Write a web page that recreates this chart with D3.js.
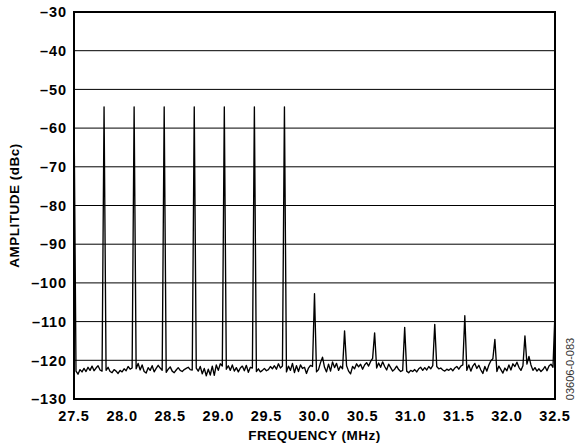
<!DOCTYPE html>
<html>
<head>
<meta charset="utf-8">
<script src="https://cdn.jsdelivr.net/npm/d3@7"></script>
<style>
  html, body { margin: 0; padding: 0; background: #fff; }
  svg { display: block; }
  text { font-family: "Liberation Sans", Arial, Helvetica, sans-serif; }
</style>
</head>
<body>
<svg id="chart" width="587" height="447"></svg>
<script>
// ---- data ----
const xTicks = [27.5, 28.0, 28.5, 29.0, 29.5, 30.0, 30.5, 31.0, 31.5, 32.0, 32.5];
const yTicks = [-30, -40, -50, -60, -70, -80, -90, -100, -110, -120, -130];
const freqStart = 27.5;
const freqStep = 5 / 240;

// noise floor, one value per freqStep (241 values)
const noiseFloor = [
  -123.5,-122.8,-123.6,-122.4,-123.0,-122.1,-122.9,-121.8,-122.6,-121.5,-122.7,-122.0,-121.4,-122.5,-122.8,
  -122.0,-122.6,-121.8,-122.9,-123.2,-122.4,-122.8,-123.4,-122.6,-123.0,-122.2,-122.7,-121.6,-122.3,-122.0,
  -121.5,-122.2,-120.8,-122.5,-121.2,-122.9,-123.3,-121.9,-122.6,-121.4,-123.0,-122.1,-121.3,-122.0,-122.6,
  -122.2,-123.1,-122.3,-121.7,-122.8,-123.2,-122.5,-121.9,-122.6,-122.9,-122.4,-122.1,-121.8,-122.4,-122.5,
  -122.6,-122.0,-122.8,-121.6,-123.5,-122.1,-124.0,-122.3,-123.8,-121.5,-123.9,-121.2,-122.6,-120.9,-121.5,
  -121.0,-122.3,-121.4,-122.6,-121.2,-122.8,-121.9,-123.0,-122.0,-121.5,-122.7,-121.3,-123.1,-121.8,-122.0,
  -122.4,-122.9,-122.2,-123.0,-122.6,-122.1,-122.7,-122.4,-121.6,-122.2,-121.4,-122.3,-120.9,-122.0,-121.5,
  -121.2,-123.0,-121.5,-122.6,-120.8,-123.2,-121.4,-122.9,-121.2,-122.1,-121.8,-123.4,-122.0,-121.3,-121.6,
  -121.5,-123.0,-122.4,-120.6,-119.2,-121.8,-123.0,-121.0,-122.8,-120.4,-121.9,-120.8,-122.6,-121.5,-122.2,
  -121.8,-121.4,-122.8,-123.5,-121.6,-122.2,-120.9,-121.7,-121.0,-122.3,-121.2,-120.6,-121.5,-120.3,-119.5,
  -121.4,-122.0,-120.7,-121.8,-120.4,-121.6,-122.5,-121.0,-121.9,-122.8,-122.3,-121.5,-122.4,-122.9,-122.6,
  -122.1,-122.8,-123.2,-122.6,-122.9,-122.4,-123.0,-122.2,-121.8,-122.6,-121.9,-122.5,-121.6,-122.2,-121.4,
  -121.0,-121.6,-122.2,-122.0,-122.5,-122.8,-122.3,-122.6,-122.1,-122.7,-122.0,-121.6,-122.3,-121.5,-121.2,
  -121.8,-122.6,-121.2,-122.8,-121.5,-120.8,-122.1,-121.3,-122.5,-123.4,-121.6,-122.8,-121.2,-120.1,-119.6,
  -121.8,-122.9,-121.5,-122.4,-123.3,-122.0,-122.7,-121.2,-122.5,-120.9,-121.6,-120.5,-121.8,-122.6,-121.4,
  -121.5,-121.0,-119.0,-121.2,-122.6,-121.9,-122.8,-122.2,-122.9,-122.4,-121.6,-122.7,-121.5,-121.0,-121.8,
  -121.5
];

// tones and spurs (MHz, dBc)
const spikeFreqs = [27.5, 27.8125, 28.125, 28.4375, 28.75, 29.0625, 29.375, 29.6875,
                    30.0, 30.3125, 30.625, 30.9375, 31.25, 31.5625, 31.875, 32.1875, 32.5];
const spikeAmps  = [-54.5, -54.5, -54.5, -54.5, -54.5, -54.5, -54.5, -54.5,
                    -102.8, -112.4, -112.9, -111.5, -110.7, -108.5, -114.6, -113.7, -107.6];

// ---- build trace ----
const trace = noiseFloor.map((v, i) => ({ f: freqStart + i * freqStep, a: v }));
spikeFreqs.forEach((f, k) => {
  const i = Math.round((f - freqStart) / freqStep);
  trace[i] = { f: f, a: spikeAmps[k] };
});

// ---- layout ----
const svg = d3.select("#chart");
const L = 74, R = 555, T = 12, B = 399;
const x = d3.scaleLinear().domain([27.5, 32.5]).range([L, R]);
const y = d3.scaleLinear().domain([-130, -30]).range([B, T]);

// grid
svg.append("g").selectAll("line")
  .data(yTicks.filter(v => v > -130 && v < -30))
  .join("line")
  .attr("x1", L).attr("x2", R)
  .attr("y1", d => y(d)).attr("y2", d => y(d))
  .attr("stroke", "#000").attr("stroke-width", 1);

// trace
svg.append("clipPath").attr("id", "clip")
  .append("rect").attr("x", L).attr("y", T).attr("width", R - L).attr("height", B - T);
svg.append("path")
  .datum(trace)
  .attr("clip-path", "url(#clip)")
  .attr("fill", "none")
  .attr("stroke", "#000")
  .attr("stroke-width", 1.35)
  .attr("stroke-linejoin", "round")
  .attr("d", d3.line().x(d => x(d.f)).y(d => y(d.a)));

// frame
svg.append("rect")
  .attr("x", L).attr("y", T).attr("width", R - L).attr("height", B - T)
  .attr("fill", "none").attr("stroke", "#000").attr("stroke-width", 2);

// y tick labels
const fmtY = d => (d < 0 ? "\u2013" : "") + Math.abs(d);
svg.append("g").selectAll("text")
  .data(yTicks)
  .join("text")
  .attr("x", L - 7)
  .attr("y", d => y(d))
  .attr("dy", "0.36em")
  .attr("text-anchor", "end")
  .attr("font-size", 14.5)
  .attr("font-weight", "bold")
  .attr("letter-spacing", "0.9px")
  .text(fmtY);

// x tick labels
svg.append("g").selectAll("text")
  .data(xTicks)
  .join("text")
  .attr("x", d => x(d))
  .attr("y", 421)
  .attr("text-anchor", "middle")
  .attr("font-size", 14.5)
  .attr("font-weight", "bold")
  .attr("letter-spacing", "0.8px")
  .text(d => d.toFixed(1));

// axis titles
svg.append("text")
  .attr("x", (L + R) / 2)
  .attr("y", 440)
  .attr("text-anchor", "middle")
  .attr("font-size", 13.5)
  .attr("font-weight", "bold")
  .attr("letter-spacing", "0.5px")
  .text("FREQUENCY (MHz)");

svg.append("text")
  .attr("transform", `translate(19,${(T + B) / 2}) rotate(-90)`)
  .attr("text-anchor", "middle")
  .attr("font-size", 13.5)
  .attr("font-weight", "bold")
  .attr("letter-spacing", "0.5px")
  .text("AMPLITUDE (dBc)");

// figure id
svg.append("text")
  .attr("transform", `translate(574,369) rotate(-90)`)
  .attr("text-anchor", "middle")
  .attr("font-size", 11)
  .attr("fill", "#333")
  .text("03606-0-083");
</script>
</body>
</html>
